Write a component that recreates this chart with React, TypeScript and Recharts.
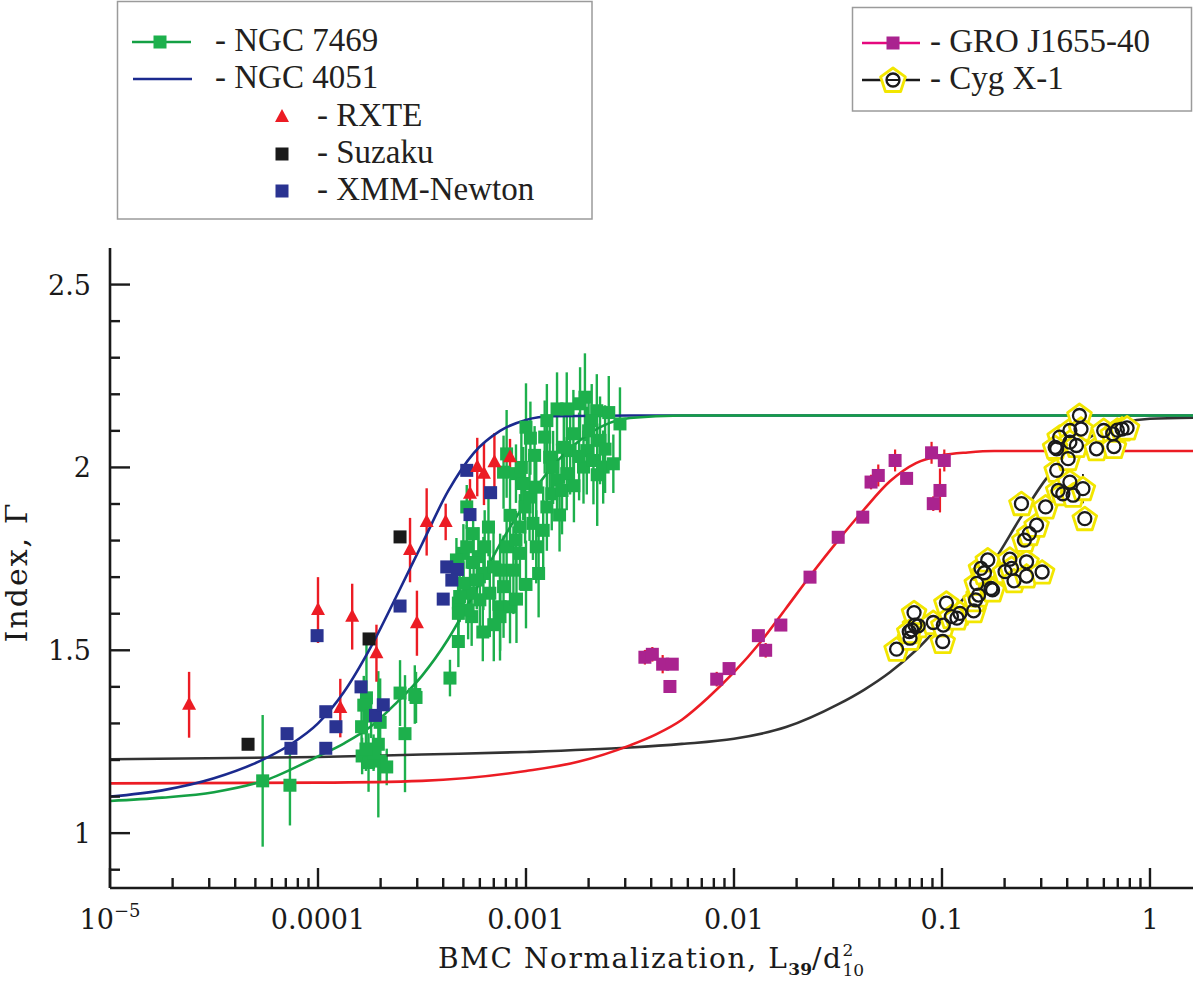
import React from 'react';
import { ComposedChart, XAxis, YAxis, Scatter, Line, ErrorBar } from 'recharts';

type Pt = { x: number; y: number; e?: number };

// NGC 7469, green squares with error bars
const ngc7469: Pt[] = [
  { x: 5.42e-5, y: 1.143, e: 0.18 }, { x: 7.33e-5, y: 1.131, e: 0.11 },
  { x: 1.62e-4, y: 1.291, e: 0.06 }, { x: 1.71e-4, y: 1.37, e: 0.15 },
  { x: 1.66e-4, y: 1.35, e: 0.08 }, { x: 1.63e-4, y: 1.211, e: 0.05 },
  { x: 1.75e-4, y: 1.193, e: 0.08 }, { x: 1.99e-4, y: 1.303, e: 0.12 },
  { x: 1.95e-4, y: 1.243, e: 0.2 }, { x: 1.99e-4, y: 1.197, e: 0.06 },
  { x: 2.14e-4, y: 1.181, e: 0.05 }, { x: 2.48e-4, y: 1.383, e: 0.09 },
  { x: 2.62e-4, y: 1.272, e: 0.16 }, { x: 2.96e-4, y: 1.371, e: 0.07 },
  { x: 2.92e-4, y: 1.379, e: 0.08 }, { x: 1.8e-4, y: 1.32, e: 0.06 },
  { x: 1.85e-4, y: 1.22, e: 0.05 }, { x: 1.7e-4, y: 1.23, e: 0.06 },
  { x: 4.31e-4, y: 1.424, e: 0.05 }, { x: 4.73e-4, y: 1.524, e: 0.07 },
  { x: 5.48e-4, y: 1.592, e: 0.08 }, { x: 4.73e-4, y: 1.629, e: 0.06 },
  { x: 5.0e-4, y: 1.765, e: 0.08 }, { x: 5.19e-4, y: 1.892, e: 0.06 },
  { x: 5.57e-4, y: 1.819, e: 0.07 }, { x: 5.9e-4, y: 1.756, e: 0.08 },
  { x: 6.24e-4, y: 1.71, e: 0.1 }, { x: 6.7e-4, y: 1.656, e: 0.12 },
  { x: 7.51e-4, y: 1.619, e: 0.12 }, { x: 8.38e-4, y: 1.619, e: 0.1 },
  { x: 7.51e-4, y: 1.719, e: 0.1 }, { x: 8.07e-4, y: 1.783, e: 0.1 },
  { x: 8.95e-4, y: 1.801, e: 0.08 }, { x: 8.38e-4, y: 1.869, e: 0.1 },
  { x: 6.6e-4, y: 1.837, e: 0.08 }, { x: 6.33e-4, y: 1.783, e: 0.1 },
  { x: 5.8e-4, y: 1.692, e: 0.08 }, { x: 5.38e-4, y: 1.656, e: 0.07 },
  { x: 5.0e-4, y: 1.683, e: 0.06 }, { x: 6.98e-4, y: 1.728, e: 0.12 },
  { x: 7.8e-4, y: 1.674, e: 0.14 }, { x: 8.7e-4, y: 1.719, e: 0.12 },
  { x: 9.35e-4, y: 1.765, e: 0.1 }, { x: 9.35e-4, y: 1.837, e: 0.09 },
  { x: 9.9e-4, y: 1.892, e: 0.1 }, { x: 1.04e-3, y: 1.919, e: 0.12 },
  { x: 1.12e-3, y: 1.946, e: 0.1 }, { x: 1.08e-3, y: 1.847, e: 0.1 },
  { x: 1.12e-3, y: 1.783, e: 0.1 }, { x: 1.21e-3, y: 1.828, e: 0.12 },
  { x: 1.26e-3, y: 1.892, e: 0.12 }, { x: 1.33e-3, y: 1.928, e: 0.1 },
  { x: 1.41e-3, y: 1.965, e: 0.1 }, { x: 1.49e-3, y: 1.937, e: 0.12 },
  { x: 1.57e-3, y: 1.983, e: 0.1 }, { x: 1.63e-3, y: 2.046, e: 0.12 },
  { x: 1.52e-3, y: 2.055, e: 0.1 }, { x: 1.69e-3, y: 2.092, e: 0.12 },
  { x: 1.89e-3, y: 2.001, e: 0.1 }, { x: 1.96e-3, y: 2.046, e: 0.12 },
  { x: 2.11e-3, y: 2.019, e: 0.12 }, { x: 2.27e-3, y: 2.074, e: 0.12 },
  { x: 2.35e-3, y: 2.001, e: 0.1 }, { x: 2.63e-3, y: 2.01, e: 0.08 },
  { x: 2.83e-3, y: 2.119, e: 0.1 }, { x: 1.92e-3, y: 2.192, e: 0.12 },
  { x: 2.19e-3, y: 2.155, e: 0.1 }, { x: 1.57e-3, y: 2.16, e: 0.1 },
  { x: 1.41e-3, y: 2.16, e: 0.1 }, { x: 1.26e-3, y: 2.128, e: 0.1 },
  { x: 1.0e-3, y: 2.11, e: 0.12 }, { x: 1.23e-3, y: 2.083, e: 0.1 },
  { x: 1.1e-3, y: 2.033, e: 0.08 }, { x: 1.3e-3, y: 2.028, e: 0.1 },
  { x: 8.07e-4, y: 2.037, e: 0.12 }, { x: 7.8e-4, y: 1.987, e: 0.1 },
  { x: 8.95e-4, y: 1.983, e: 0.08 }, { x: 9.7e-4, y: 1.956, e: 0.1 },
  { x: 2.07e-3, y: 2.128, e: 0.1 }, { x: 1.82e-3, y: 2.174, e: 0.1 },
  { x: 5.6e-4, y: 1.74, e: 0.07 }, { x: 5.19e-4, y: 1.783, e: 0.06 },
  { x: 4.63e-4, y: 1.747, e: 0.06 }, { x: 4.8e-4, y: 1.647, e: 0.07 },
  { x: 5.27e-4, y: 1.61, e: 0.08 }, { x: 6.0e-4, y: 1.638, e: 0.08 },
  { x: 7.5e-4, y: 1.592, e: 0.12 }, { x: 4.73e-4, y: 1.601, e: 0.06 },
  { x: 1.7e-3, y: 1.95, e: 0.1 }, { x: 1.8e-3, y: 2.03, e: 0.12 },
  { x: 2.5e-3, y: 2.15, e: 0.1 }, { x: 2.2e-3, y: 1.98, e: 0.14 },
  { x: 1.45e-3, y: 1.87, e: 0.1 }, { x: 1.15e-3, y: 1.71, e: 0.12 },
  { x: 1.0e-3, y: 1.68, e: 0.12 }, { x: 9.0e-4, y: 1.64, e: 0.12 },
  { x: 7.0e-4, y: 1.57, e: 0.1 }, { x: 6.2e-4, y: 1.55, e: 0.08 },
  { x: 1.35e-3, y: 2.0, e: 0.1 }, { x: 2.0e-3, y: 2.1, e: 0.1 },
  { x: 2.4e-3, y: 2.05, e: 0.12 }, { x: 1.05e-3, y: 2.08, e: 0.1 },
  { x: 9.5e-4, y: 2.0, e: 0.1 },
];

// NGC 4051 – RXTE (triangles)
const rxte: Pt[] = [
  { x: 2.4e-5, y: 1.351, e: 0.09 }, { x: 1.0e-4, y: 1.61, e: 0.09 },
  { x: 1.46e-4, y: 1.592, e: 0.09 }, { x: 1.91e-4, y: 1.492, e: 0.078 },
  { x: 1.28e-4, y: 1.342, e: 0.08 }, { x: 2.77e-4, y: 1.774, e: 0.088 },
  { x: 3.33e-4, y: 1.851, e: 0.092 }, { x: 2.99e-4, y: 1.574, e: 0.089 },
  { x: 4.11e-4, y: 1.851, e: 0.05 }, { x: 5.38e-4, y: 1.928, e: 0.04 },
  { x: 5.83e-4, y: 2.001, e: 0.08 }, { x: 6.28e-4, y: 1.983, e: 0.086 },
  { x: 7.05e-4, y: 2.014, e: 0.08 }, { x: 8.38e-4, y: 2.028, e: 0.05 },
];

// NGC 4051 – Suzaku
const suzaku: Pt[] = [
  { x: 4.61e-5, y: 1.243 }, { x: 1.76e-4, y: 1.531 }, { x: 2.48e-4, y: 1.81 },
];

// NGC 4051 – XMM-Newton
const xmmNewton: Pt[] = [
  { x: 9.9e-5, y: 1.54 }, { x: 7.1e-5, y: 1.272 }, { x: 7.41e-5, y: 1.232 },
  { x: 1.09e-4, y: 1.332 }, { x: 1.22e-4, y: 1.291 }, { x: 1.09e-4, y: 1.232 },
  { x: 1.61e-4, y: 1.4 }, { x: 1.89e-4, y: 1.322 }, { x: 2.06e-4, y: 1.351 },
  { x: 2.48e-4, y: 1.621 }, { x: 4.0e-4, y: 1.64 }, { x: 4.16e-4, y: 1.728 },
  { x: 4.68e-4, y: 1.721 }, { x: 4.4e-4, y: 1.692 }, { x: 5.19e-4, y: 1.992 },
  { x: 6.76e-4, y: 1.931 }, { x: 5.38e-4, y: 1.871 },
];

// GRO J1655-40
const groJ1655: Pt[] = [
  { x: 3.73e-3, y: 1.481, e: 0.02 }, { x: 4.05e-3, y: 1.489, e: 0.02 },
  { x: 4.54e-3, y: 1.462, e: 0.025 }, { x: 5.05e-3, y: 1.462, e: 0.01 },
  { x: 4.92e-3, y: 1.401, e: 0.01 }, { x: 8.26e-3, y: 1.421, e: 0.02 },
  { x: 9.47e-3, y: 1.45, e: 0.01 }, { x: 1.31e-2, y: 1.54, e: 0.01 },
  { x: 1.42e-2, y: 1.5, e: 0.02 }, { x: 1.68e-2, y: 1.569, e: 0.01 },
  { x: 2.32e-2, y: 1.7, e: 0.01 }, { x: 3.17e-2, y: 1.809, e: 0.01 },
  { x: 4.16e-2, y: 1.864, e: 0.01 }, { x: 4.56e-2, y: 1.96, e: 0.02 },
  { x: 4.94e-2, y: 1.978, e: 0.03 }, { x: 5.95e-2, y: 2.019, e: 0.03 },
  { x: 6.76e-2, y: 1.97, e: 0.01 }, { x: 8.91e-2, y: 2.04, e: 0.03 },
  { x: 0.1026, y: 2.019, e: 0.03 }, { x: 9.08e-2, y: 1.901, e: 0.02 },
  { x: 9.78e-2, y: 1.937, e: 0.06 },
];

// Cyg X-1
const cygX1: Pt[] = [
  { x: 0.0605, y: 1.503, e: 0.015 }, { x: 0.0702, y: 1.533, e: 0.015 },
  { x: 0.0715, y: 1.556, e: 0.015 }, { x: 0.0741, y: 1.569, e: 0.015 },
  { x: 0.0769, y: 1.567, e: 0.015 }, { x: 0.0734, y: 1.603, e: 0.015 },
  { x: 0.0696, y: 1.551, e: 0.015 }, { x: 0.0908, y: 1.576, e: 0.015 },
  { x: 0.1008, y: 1.524, e: 0.015 }, { x: 0.1015, y: 1.569, e: 0.015 },
  { x: 0.105, y: 1.629, e: 0.015 }, { x: 0.111, y: 1.592, e: 0.015 },
  { x: 0.122, y: 1.601, e: 0.015 }, { x: 0.118, y: 1.588, e: 0.015 },
  { x: 0.142, y: 1.608, e: 0.015 }, { x: 0.145, y: 1.638, e: 0.015 },
  { x: 0.15, y: 1.651, e: 0.015 }, { x: 0.147, y: 1.683, e: 0.015 },
  { x: 0.154, y: 1.724, e: 0.015 }, { x: 0.16, y: 1.712, e: 0.015 },
  { x: 0.166, y: 1.747, e: 0.015 }, { x: 0.172, y: 1.669, e: 0.015 },
  { x: 0.175, y: 1.665, e: 0.015 }, { x: 0.201, y: 1.715, e: 0.015 },
  { x: 0.212, y: 1.749, e: 0.015 }, { x: 0.216, y: 1.724, e: 0.015 },
  { x: 0.222, y: 1.69, e: 0.015 }, { x: 0.255, y: 1.742, e: 0.015 },
  { x: 0.255, y: 1.703, e: 0.015 }, { x: 0.303, y: 1.714, e: 0.015 },
  { x: 0.249, y: 1.801, e: 0.015 }, { x: 0.263, y: 1.819, e: 0.015 },
  { x: 0.285, y: 1.842, e: 0.015 }, { x: 0.241, y: 1.901, e: 0.015 },
  { x: 0.315, y: 1.892, e: 0.015 }, { x: 0.356, y: 1.992, e: 0.015 },
  { x: 0.362, y: 1.937, e: 0.015 }, { x: 0.381, y: 1.928, e: 0.015 },
  { x: 0.412, y: 1.96, e: 0.015 }, { x: 0.427, y: 1.924, e: 0.015 },
  { x: 0.476, y: 1.942, e: 0.04 }, { x: 0.486, y: 1.86, e: 0.015 },
  { x: 0.356, y: 2.051, e: 0.015 }, { x: 0.368, y: 2.083, e: 0.015 },
  { x: 0.412, y: 2.101, e: 0.015 }, { x: 0.458, y: 2.142, e: 0.015 },
  { x: 0.466, y: 2.105, e: 0.015 }, { x: 0.412, y: 2.069, e: 0.015 },
  { x: 0.404, y: 2.024, e: 0.015 }, { x: 0.443, y: 2.06, e: 0.015 },
  { x: 0.553, y: 2.051, e: 0.03 }, { x: 0.599, y: 2.101, e: 0.015 },
  { x: 0.662, y: 2.092, e: 0.015 }, { x: 0.671, y: 2.057, e: 0.015 },
  { x: 0.697, y: 2.102, e: 0.015 }, { x: 0.734, y: 2.105, e: 0.015 },
  { x: 0.776, y: 2.108, e: 0.015 }, { x: 0.35, y: 2.055, e: 0.015 },
];

// fitted scaling curves
const fitNgc7469: Pt[] = [
  { x: 1e-5, y: 1.088 }, { x: 1.78e-5, y: 1.097 }, { x: 3.16e-5, y: 1.112 },
  { x: 5.62e-5, y: 1.145 }, { x: 1e-4, y: 1.21 }, { x: 1.33e-4, y: 1.245 },
  { x: 1.78e-4, y: 1.29 }, { x: 2.37e-4, y: 1.355 }, { x: 3.16e-4, y: 1.43 },
  { x: 4.22e-4, y: 1.53 }, { x: 5.62e-4, y: 1.655 }, { x: 7.5e-4, y: 1.79 },
  { x: 1e-3, y: 1.905 }, { x: 1.33e-3, y: 2.0 }, { x: 1.78e-3, y: 2.07 },
  { x: 2.37e-3, y: 2.115 }, { x: 3.16e-3, y: 2.135 }, { x: 5.62e-3, y: 2.142 },
  { x: 0.1, y: 2.142 }, { x: 1.61, y: 2.142 },
];

const fitNgc4051: Pt[] = [
  { x: 1e-5, y: 1.1 }, { x: 1.78e-5, y: 1.117 }, { x: 3.16e-5, y: 1.15 },
  { x: 5.62e-5, y: 1.205 }, { x: 7.5e-5, y: 1.245 }, { x: 1e-4, y: 1.3 },
  { x: 1.33e-4, y: 1.385 }, { x: 1.78e-4, y: 1.505 }, { x: 2.37e-4, y: 1.645 },
  { x: 3.16e-4, y: 1.79 }, { x: 4.22e-4, y: 1.935 }, { x: 5.62e-4, y: 2.04 },
  { x: 7.5e-4, y: 2.1 }, { x: 1e-3, y: 2.13 }, { x: 1.33e-3, y: 2.14 },
  { x: 3.16e-3, y: 2.142 }, { x: 0.1, y: 2.142 }, { x: 1.61, y: 2.142 },
];

const fitGroJ1655: Pt[] = [
  { x: 1e-5, y: 1.136 }, { x: 1e-4, y: 1.138 }, { x: 3.16e-4, y: 1.143 },
  { x: 1e-3, y: 1.17 }, { x: 1.78e-3, y: 1.195 }, { x: 3.16e-3, y: 1.24 },
  { x: 4.22e-3, y: 1.27 }, { x: 5.62e-3, y: 1.31 }, { x: 7.5e-3, y: 1.37 },
  { x: 1e-2, y: 1.44 }, { x: 1.33e-2, y: 1.52 }, { x: 1.78e-2, y: 1.615 },
  { x: 2.37e-2, y: 1.71 }, { x: 3.16e-2, y: 1.8 }, { x: 4.22e-2, y: 1.885 },
  { x: 5.62e-2, y: 1.962 }, { x: 7.5e-2, y: 2.012 }, { x: 0.1, y: 2.033 },
  { x: 0.133, y: 2.041 }, { x: 0.178, y: 2.045 }, { x: 1.61, y: 2.045 },
];

const fitCygX1: Pt[] = [
  { x: 1e-5, y: 1.202 }, { x: 1e-4, y: 1.208 }, { x: 3.16e-4, y: 1.215 },
  { x: 1e-3, y: 1.222 }, { x: 3.16e-3, y: 1.234 }, { x: 5.62e-3, y: 1.244 },
  { x: 1e-2, y: 1.258 }, { x: 1.78e-2, y: 1.29 }, { x: 3.16e-2, y: 1.352 },
  { x: 4.22e-2, y: 1.392 }, { x: 5.62e-2, y: 1.44 }, { x: 7.5e-2, y: 1.5 },
  { x: 0.1, y: 1.575 }, { x: 0.133, y: 1.655 }, { x: 0.178, y: 1.745 },
  { x: 0.237, y: 1.86 }, { x: 0.316, y: 1.968 }, { x: 0.422, y: 2.045 },
  { x: 0.562, y: 2.095 }, { x: 0.75, y: 2.122 }, { x: 1.0, y: 2.133 },
  { x: 1.61, y: 2.136 },
];

// axes
const xMajorTicks = [0.00001, 0.0001, 0.001, 0.01, 0.1, 1];
const xMajorLabels = ['10', '0.0001', '0.001', '0.01', '0.1', '1'];
const xMinorSteps = [2, 3, 4, 5, 6, 7, 8, 9];
const yTicks = [0.9, 1, 1.1, 1.2, 1.3, 1.4, 1.5, 1.6, 1.7, 1.8, 1.9, 2, 2.1, 2.2, 2.3, 2.4, 2.5];
const yMajorTicks = [1, 1.5, 2, 2.5];
const yMajorLabels = ['1', '1.5', '2', '2.5'];

const xTicks = [
  ...xMajorTicks,
  ...xMajorTicks.slice(0, -1).flatMap((m) => xMinorSteps.map((k) => k * m)),
];

const GREEN = '#1db04c';
const GREEN_LINE = '#14a044';
const NAVY = '#2a3391';
const NAVY_LINE = '#1b2a8e';
const RED = '#ec1c24';
const MAGENTA = '#aa238f';
const PINK = '#e5087e';
const YELLOW = '#f2e600';
const INK = '#1a1a1a';
const AXIS_FONT = '"DejaVu Serif", serif';
const LEGEND_FONT = '"Liberation Serif", "Times New Roman", serif';

const xMajorIndex = (v: number) => xMajorTicks.findIndex((m) => Math.abs(v / m - 1) < 1e-6);
const yMajorIndex = (v: number) => yMajorTicks.findIndex((m) => Math.abs(v - m) < 1e-6);

const BottomTick = (props: any) => {
  const { x, y, payload } = props;
  const i = xMajorIndex(payload.value);
  const major = i >= 0;
  return (
    <g>
      <line x1={x} x2={x} y1={y} y2={y - (major ? 20 : 10)} stroke={INK} strokeWidth={2.4} />
      {major ? (
        <text x={x} y={y + 41} textAnchor="middle" fontFamily={AXIS_FONT} fontSize={27} fill={INK}>
          {xMajorLabels[i]}
          {i === 0 ? (
            <tspan fontSize={18} dy={-12}>
              −5
            </tspan>
          ) : null}
        </text>
      ) : null}
    </g>
  );
};

const TopTick = (props: any) => {
  const { x, y, payload } = props;
  const major = xMajorIndex(payload.value) >= 0;
  return <line x1={x} x2={x} y1={y} y2={y + (major ? 20 : 10)} stroke={INK} strokeWidth={2.4} />;
};

const LeftTick = (props: any) => {
  const { x, y, payload } = props;
  const i = yMajorIndex(payload.value);
  const major = i >= 0;
  return (
    <g>
      <line x1={x} x2={x + (major ? 20 : 10)} y1={y} y2={y} stroke={INK} strokeWidth={2.4} />
      {major ? (
        <text x={x - 19} y={y + 10} textAnchor="end" fontFamily={AXIS_FONT} fontSize={27} fill={INK}>
          {yMajorLabels[i]}
        </text>
      ) : null}
    </g>
  );
};

const RightTick = (props: any) => {
  const { x, y, payload } = props;
  const major = yMajorIndex(payload.value) >= 0;
  return <line x1={x} x2={x - (major ? 20 : 10)} y1={y} y2={y} stroke={INK} strokeWidth={2.4} />;
};

const squareShape = (fill: string, size: number) => (p: any) => (
  <rect x={p.cx - size / 2} y={p.cy - size / 2} width={size} height={size} fill={fill} />
);

const triangleShape = (p: any) => (
  <polygon
    points={`${p.cx},${p.cy - 8} ${p.cx - 7},${p.cy + 5} ${p.cx + 7},${p.cy + 5}`}
    fill={RED}
  />
);

const pentagon = (cx: number, cy: number, r: number) =>
  [0, 1, 2, 3, 4]
    .map((k) => {
      const a = ((-90 + k * 72) * Math.PI) / 180;
      return `${cx + r * Math.cos(a)},${cy + r * Math.sin(a)}`;
    })
    .join(' ');

const pentagonShape = (p: any) => (
  <polygon
    points={pentagon(p.cx, p.cy + 1, 12.5)}
    fill="#fff"
    stroke={YELLOW}
    strokeWidth={2.8}
    strokeLinejoin="round"
  />
);

const ringShape = (p: any) => (
  <circle cx={p.cx} cy={p.cy} r={6.5} fill="none" stroke={INK} strokeWidth={2.3} />
);

const noShape = () => <g />;

const axisLine = { stroke: INK, strokeWidth: 2.6 };

const Legends = () => (
  <svg
    width={1200}
    height={982}
    style={{ position: 'absolute', left: 0, top: 0, pointerEvents: 'none' }}
  >
    <rect x={117.5} y={1.5} width={474.5} height={217.5} fill="none" stroke="#9b9b9b" strokeWidth={1.5} />
    <line x1={132} x2={191} y1={42} y2={42} stroke={GREEN_LINE} strokeWidth={2.5} />
    <rect x={153.5} y={35.5} width={13} height={13} fill={GREEN} />
    <line x1={133} x2={192} y1={79} y2={79} stroke={NAVY_LINE} strokeWidth={2.5} />
    <polygon points="282,109 275,122 289,122" fill={RED} />
    <rect x={275.5} y={147.5} width={13} height={13} fill={INK} />
    <rect x={275.5} y={184.5} width={13} height={13} fill={NAVY} />
    <g fontFamily={LEGEND_FONT} fontSize={33} fill="#231f20">
      <text x={215} y={51}>- NGC 7469</text>
      <text x={215} y={88}>- NGC 4051</text>
      <text x={317} y={126}>- RXTE</text>
      <text x={317} y={163}>- Suzaku</text>
      <text x={317} y={200}>- XMM-Newton</text>
    </g>

    <rect x={852.5} y={7.5} width={339} height={103.5} fill="none" stroke="#9b9b9b" strokeWidth={1.5} />
    <line x1={862} x2={920} y1={43} y2={43} stroke={PINK} strokeWidth={2.5} />
    <rect x={886.5} y={36.5} width={13} height={13} fill={MAGENTA} />
    <line x1={862} x2={920} y1={80} y2={80} stroke={INK} strokeWidth={2.5} />
    <polygon points={pentagon(893, 81, 13)} fill="#fff" stroke={YELLOW} strokeWidth={2.8} strokeLinejoin="round" />
    <circle cx={893} cy={80} r={6.5} fill="none" stroke={INK} strokeWidth={2.3} />
    <line x1={886} x2={900} y1={80} y2={80} stroke={INK} strokeWidth={2} />
    <g fontFamily={LEGEND_FONT} fontSize={33} fill="#231f20">
      <text x={930} y={52}>- GRO J1655-40</text>
      <text x={930} y={89}>- Cyg X-1</text>
    </g>

    <text
      x={651}
      y={968}
      textAnchor="middle"
      fontFamily={AXIS_FONT}
      fontSize={28}
      letterSpacing={1.6}
      fill={INK}
    >
      BMC Normalization, L
      <tspan fontSize={17} fontWeight="bold" letterSpacing={0} dy={7}>39</tspan>
      <tspan dy={-7}>/d</tspan>
      <tspan fontSize={17} letterSpacing={0} dy={-12}>2</tspan>
      <tspan fontSize={17} letterSpacing={0} dx={-11} dy={20}>10</tspan>
    </text>
    <text
      transform="translate(27,572) rotate(-90)"
      textAnchor="middle"
      fontFamily={AXIS_FONT}
      fontSize={30}
      letterSpacing={2}
      fill={INK}
    >
      Index, Γ
    </text>
  </svg>
);

export default function App() {
  return (
    <div style={{ position: 'absolute', left: 0, top: 0, width: 1200, height: 982, background: '#fff' }}>
      <ComposedChart width={1200} height={982} margin={{ top: 248, right: 7, bottom: 0, left: 0 }}>
        <XAxis
          dataKey="x"
          type="number"
          scale="log"
          domain={[0.00001, 1.61]}
          allowDataOverflow
          ticks={xTicks}
          interval={0}
          height={94}
          tickSize={0}
          tickMargin={0}
          tickLine={false}
          axisLine={axisLine}
          tick={<BottomTick />}
        />
        <XAxis
          xAxisId="top"
          orientation="top"
          dataKey="x"
          type="number"
          scale="log"
          domain={[0.00001, 1.61]}
          allowDataOverflow
          ticks={xTicks}
          interval={0}
          height={0}
          tickSize={0}
          tickMargin={0}
          tickLine={false}
          axisLine={axisLine}
          tick={<TopTick />}
        />
        <YAxis
          dataKey="y"
          type="number"
          domain={[0.85, 2.6]}
          allowDataOverflow
          ticks={yTicks}
          interval={0}
          width={110}
          tickSize={0}
          tickMargin={0}
          tickLine={false}
          axisLine={axisLine}
          tick={<LeftTick />}
        />
        <YAxis
          yAxisId="right"
          orientation="right"
          dataKey="y"
          type="number"
          domain={[0.85, 2.6]}
          allowDataOverflow
          ticks={yTicks}
          interval={0}
          width={0}
          tickSize={0}
          tickMargin={0}
          tickLine={false}
          axisLine={axisLine}
          tick={<RightTick />}
        />

        <Scatter data={ngc7469} shape={squareShape(GREEN, 13)} isAnimationActive={false}>
          <ErrorBar dataKey="e" direction="y" width={0} stroke={GREEN} strokeWidth={2.4} />
        </Scatter>
        <Scatter data={xmmNewton} shape={squareShape(NAVY, 13)} isAnimationActive={false} />
        <Scatter data={suzaku} shape={squareShape(INK, 13)} isAnimationActive={false} />
        <Scatter data={rxte} shape={triangleShape} isAnimationActive={false}>
          <ErrorBar dataKey="e" direction="y" width={0} stroke={RED} strokeWidth={2.4} />
        </Scatter>
        <Scatter data={groJ1655} shape={squareShape(MAGENTA, 13)} isAnimationActive={false} />
        <Scatter data={groJ1655} shape={noShape} isAnimationActive={false}>
          <ErrorBar dataKey="e" direction="y" width={0} stroke={RED} strokeWidth={2.2} />
        </Scatter>
        <Scatter data={cygX1} shape={pentagonShape} isAnimationActive={false} />
        <Scatter data={cygX1} shape={ringShape} isAnimationActive={false}>
          <ErrorBar dataKey="e" direction="y" width={0} stroke={INK} strokeWidth={1.8} />
        </Scatter>

        <Line data={fitCygX1} dataKey="y" type="monotone" stroke="#333" strokeWidth={2.6} dot={false} activeDot={false} isAnimationActive={false} />
        <Line data={fitGroJ1655} dataKey="y" type="monotone" stroke={RED} strokeWidth={2.6} dot={false} activeDot={false} isAnimationActive={false} />
        <Line data={fitNgc4051} dataKey="y" type="monotone" stroke={NAVY_LINE} strokeWidth={2.6} dot={false} activeDot={false} isAnimationActive={false} />
        <Line data={fitNgc7469} dataKey="y" type="monotone" stroke={GREEN_LINE} strokeWidth={2.6} dot={false} activeDot={false} isAnimationActive={false} />
      </ComposedChart>
      <Legends />
    </div>
  );
}
